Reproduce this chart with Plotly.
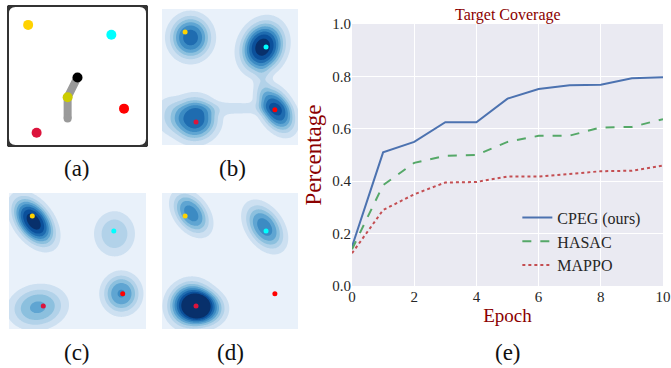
import numpy as np
import plotly.graph_objects as go

W, H = 671, 368

# ---------------- data: panel (e) ----------------
epochs = [0, 1, 2, 3, 4, 5, 6, 7, 8, 9, 10]
cpeg = [0.15, 0.51, 0.55, 0.625, 0.625, 0.715, 0.752, 0.766, 0.768, 0.793, 0.797]
hasac = [0.14, 0.385, 0.47, 0.497, 0.50, 0.55, 0.573, 0.574, 0.605, 0.607, 0.637]
mappo = [0.125, 0.29, 0.35, 0.395, 0.397, 0.418, 0.418, 0.428, 0.438, 0.44, 0.46]
series_names = ["CPEG (ours)", "HASAC", "MAPPO"]
y_ticks = [0.0, 0.2, 0.4, 0.6, 0.8, 1.0]
x_ticks = [0, 2, 4, 6, 8, 10]

# ---------------- data: panel (a) ----------------
a_target_x = [0.15, 0.74, 0.83, 0.21]
a_target_y = [0.86, 0.79, 0.27, 0.10]
target_colors = ["#FFD200", "#00FFFF", "#FF0000", "#DC143C"]
a_traj_x = [0.50, 0.43, 0.43]
a_traj_y = [0.49, 0.35, 0.20]
a_agent_x = [0.50, 0.43]
a_agent_y = [0.49, 0.35]
a_agent_colors = ["#000000", "#CCCC00"]

# ---------------- data: panels (b)-(d) ----------------
t_x = [0.17, 0.765, 0.83, 0.25]
t_y = [0.83, 0.72, 0.26, 0.17]

# blob components: centre x, centre y, spread x, spread y, correlation, weight
b_cx = [0.21, 0.74, 0.84, 0.24, 0.53, 0.74, 0.05]
b_cy = [0.79, 0.72, 0.26, 0.19, 0.27, 0.46, 0.22]
b_sx = [0.095, 0.10, 0.085, 0.105, 0.24, 0.04, 0.07]
b_sy = [0.10, 0.115, 0.105, 0.10, 0.035, 0.09, 0.09]
b_rho = [0.0, 0.15, -0.4, 0.0, 0.0, 0.0, 0.0]
b_w = [0.72, 0.97, 0.80, 0.76, 0.10, 0.10, 0.15]

c_cx = [0.18, 0.77, 0.82, 0.21]
c_cy = [0.79, 0.70, 0.26, 0.16]
c_sx = [0.095, 0.09, 0.085, 0.125]
c_sy = [0.11, 0.10, 0.09, 0.095]
c_rho = [-0.45, 0.0, 0.0, 0.1]
c_w = [0.97, 0.28, 0.55, 0.44]

d_cx = [0.215, 0.755, 0.21, 0.32]
d_cy = [0.85, 0.75, 0.18, 0.15]
d_sx = [0.085, 0.09, 0.10, 0.09]
d_sy = [0.095, 0.105, 0.10, 0.08]
d_rho = [-0.4, -0.4, 0.05, 0.0]
d_w = [0.60, 0.60, 0.98, 0.62]

grid = np.linspace(0, 1, 170)
GX, GY = np.meshgrid(grid, grid)


def mixture(cx, cy, sx, sy, rho, w, p=1.35):
    z = np.zeros_like(GX)
    for x0, y0, s1, s2, r, a in zip(cx, cy, sx, sy, rho, w):
        dx = (GX - x0) / s1
        dy = (GY - y0) / s2
        q = (dx * dx - 2 * r * dx * dy + dy * dy) / (1 - r * r)
        z += a * np.exp(-(0.5 * q) ** p)
    return np.clip(z, 0, 1)


band_colors = ["#e9f1fa", "#cde0f1", "#b2d2e9", "#8cc0de", "#5fa5d2",
               "#3c8bc3", "#1f6cb0", "#0b509b", "#08306b"]
n_b = len(band_colors) - 1
blues = [[i / n_b, c] for i, c in enumerate(band_colors)]

fig = go.Figure()


def dom_x(a, b):
    return [a / W, b / W]


def dom_y(top, bottom):
    return [1 - bottom / H, 1 - top / H]


# panel (a)
fig.add_trace(go.Scatter(x=a_traj_x, y=a_traj_y, mode="lines",
                         line=dict(color="#9a9a9a", width=8), xaxis="x", yaxis="y",
                         hoverinfo="skip", showlegend=False))
fig.add_trace(go.Scatter(x=a_traj_x[-1:], y=a_traj_y[-1:], mode="markers",
                         marker=dict(color="#9a9a9a", size=8), xaxis="x", yaxis="y",
                         hoverinfo="skip", showlegend=False))
fig.add_trace(go.Scatter(x=a_target_x, y=a_target_y, mode="markers",
                         marker=dict(color=target_colors, size=10), xaxis="x", yaxis="y",
                         hoverinfo="skip", showlegend=False))
fig.add_trace(go.Scatter(x=a_agent_x, y=a_agent_y, mode="markers",
                         marker=dict(color=a_agent_colors, size=10), xaxis="x", yaxis="y",
                         hoverinfo="skip", showlegend=False))

# panels (b)-(d)
panels = [
    ("x2", "y2", mixture(b_cx, b_cy, b_sx, b_sy, b_rho, b_w)),
    ("x3", "y3", mixture(c_cx, c_cy, c_sx, c_sy, c_rho, c_w)),
    ("x4", "y4", mixture(d_cx, d_cy, d_sx, d_sy, d_rho, d_w)),
]
for xa, ya, Z in panels:
    fig.add_trace(go.Contour(x=grid, y=grid, z=Z, colorscale=blues,
                             contours=dict(start=0.06, end=0.90, size=0.12,
                                           coloring="fill", showlines=False),
                             line=dict(width=0), showscale=False, hoverinfo="skip",
                             xaxis=xa, yaxis=ya))
    fig.add_trace(go.Scatter(x=t_x, y=t_y, mode="markers",
                             marker=dict(color=target_colors, size=5), xaxis=xa, yaxis=ya,
                             hoverinfo="skip", showlegend=False))

# panel (e)
styles = [("#4C72B0", "solid"), ("#55A868", "dash"), ("#C44E52", "dot")]
for name, vals, (col, dash) in zip(series_names, [cpeg, hasac, mappo], styles):
    fig.add_trace(go.Scatter(x=epochs, y=vals, mode="lines", name=name, legendgroup=name,
                             line=dict(color=col, width=2, dash=dash),
                             xaxis="x5", yaxis="y5"))

hidden = dict(visible=False, range=[0, 1], fixedrange=True, automargin=False)
serif = "Liberation Serif, Times New Roman, serif"
darkred = "#8B0000"

fig.update_layout(
    width=W, height=H, margin=dict(l=0, r=0, t=0, b=0, autoexpand=False),
    paper_bgcolor="white", plot_bgcolor="rgba(0,0,0,0)",
    font=dict(family=serif, color="#262626"),
    xaxis=dict(domain=dom_x(7, 148), anchor="y", **hidden),
    yaxis=dict(domain=dom_y(5, 147), anchor="x", **hidden),
    xaxis2=dict(domain=dom_x(162, 298), anchor="y2", **hidden),
    yaxis2=dict(domain=dom_y(9, 145), anchor="x2", **hidden),
    xaxis3=dict(domain=dom_x(9, 146), anchor="y3", **hidden),
    yaxis3=dict(domain=dom_y(193, 329), anchor="x3", **hidden),
    xaxis4=dict(domain=dom_x(162, 298), anchor="y4", **hidden),
    yaxis4=dict(domain=dom_y(193, 329), anchor="x4", **hidden),
    xaxis5=dict(domain=dom_x(352, 663), anchor="y5", range=[0, 10], tickvals=x_ticks,
                showgrid=True, gridcolor="white", gridwidth=1.3, zeroline=False,
                showline=False, ticks="", automargin=False,
                tickfont=dict(size=15, color="#262626"),
                title=dict(text="Epoch", font=dict(size=19, color=darkred), standoff=4)),
    yaxis5=dict(domain=dom_y(24, 286), anchor="x5", range=[0, 1], tickvals=y_ticks,
                tickformat=".1f", automargin=False,
                showgrid=True, gridcolor="white", gridwidth=1.3, zeroline=False,
                showline=False, ticks="", tickfont=dict(size=15, color="#262626"),
                title=dict(text="Percentage", font=dict(size=23, color=darkred), standoff=4)),
    legend=dict(x=0.771, y=0.455, xanchor="left", yanchor="top",
                bgcolor="rgba(0,0,0,0)", font=dict(size=16, color="#262626"),
                tracegroupgap=0),
    showlegend=True,
)

# backgrounds / frames
fig.add_shape(type="rect", xref="x5 domain", yref="y5 domain", x0=0, x1=1, y0=0, y1=1,
              fillcolor="#EAEAF2", line=dict(width=0), layer="below")
r = 0.06
path = (f"M {r},0 L {1-r},0 Q 1,0 1,{r} L 1,{1-r} Q 1,1 {1-r},1 L {r},1 "
        f"Q 0,1 0,{1-r} L 0,{r} Q 0,0 {r},0 Z")
fig.add_shape(type="path", path=path, xref="x", yref="y",
              line=dict(color="#333333", width=4), layer="above")

fig.add_annotation(text="Target Coverage", xref="x5 domain", yref="paper", x=0.5,
                   y=1 - 15 / H, yanchor="middle", showarrow=False,
                   font=dict(size=16, color=darkred, family=serif))

labels = [("(a)", 77, 168), ("(b)", 232, 168), ("(c)", 77, 352), ("(d)", 230, 352), ("(e)", 508, 352)]
for txt, px, py in labels:
    fig.add_annotation(text=txt, xref="paper", yref="paper", x=px / W, y=1 - py / H,
                       xanchor="center", yanchor="middle", showarrow=False,
                       font=dict(size=23, color="#111111", family=serif))

fig.write_html("out.html", config={"displayModeBar": False},
               post_script="document.body.style.margin='0px';"
                           "document.body.style.overflow='hidden';")
